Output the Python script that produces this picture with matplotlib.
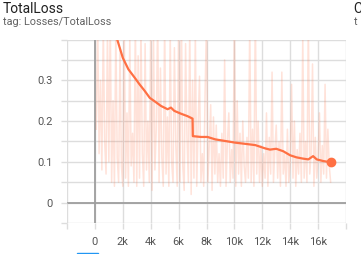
import numpy as np
import matplotlib.pyplot as plt
from matplotlib.patches import Rectangle

plt.rcParams['font.family'] = ['Roboto', 'DejaVu Sans']

# raw (unsmoothed) loss, one value every 100 steps
raw_steps = list(range(100, 17000, 100))
raw_loss = [0.18, 0.45, 0.12, 0.30, 0.08, 0.44, 0.15, 0.07, 0.42, 0.10,
            0.46, 0.05, 0.25, 0.04, 0.43, 0.11, 0.05, 0.38, 0.09, 0.04,
            0.47, 0.06, 0.22, 0.04, 0.41, 0.09, 0.17, 0.05, 0.45, 0.04,
            0.36, 0.06, 0.44, 0.12, 0.04, 0.39, 0.08, 0.20, 0.05, 0.43,
            0.03, 0.41, 0.08, 0.18, 0.46, 0.05, 0.33, 0.11, 0.04, 0.45,
            0.07, 0.21, 0.04, 0.42, 0.10, 0.05, 0.38, 0.14, 0.04, 0.44,
            0.05, 0.47, 0.09, 0.03, 0.39, 0.16, 0.05, 0.44, 0.02, 0.30,
            0.06, 0.42, 0.04, 0.19, 0.31, 0.05, 0.12, 0.04, 0.27, 0.45,
            0.05, 0.14, 0.24, 0.03, 0.21, 0.07, 0.19, 0.05, 0.12, 0.04,
            0.17, 0.06, 0.35, 0.04, 0.15, 0.22, 0.05, 0.13, 0.06, 0.46,
            0.04, 0.25, 0.07, 0.17, 0.04, 0.20, 0.09, 0.05, 0.16, 0.06,
            0.45, 0.05, 0.18, 0.04, 0.48, 0.07, 0.20, 0.05, 0.14, 0.04,
            0.12, 0.06, 0.22, 0.04, 0.16, 0.07, 0.32, 0.05, 0.13, 0.19,
            0.06, 0.15, 0.04, 0.32, 0.07, 0.12, 0.04, 0.18, 0.05, 0.10,
            0.29, 0.06, 0.20, 0.04, 0.13, 0.07, 0.17, 0.05, 0.41, 0.06,
            0.15, 0.05, 0.45, 0.07, 0.12, 0.34, 0.04, 0.16, 0.06, 0.11,
            0.22, 0.05, 0.14, 0.07, 0.29, 0.06, 0.18, 0.09, 0.05]

# smoothed curve
smooth_steps = [1400, 1600, 2000, 2400, 2860, 3200, 3570, 3930, 4260, 4740,
                5210, 5450, 5690, 6170, 6640, 7000, 7020, 7600, 8070, 8640,
                9360, 10070, 10800, 11500, 12200, 12550, 13000, 13500, 14000,
                14450, 14900, 15300, 15640, 15900, 16360, 16900]
smooth_loss = [0.43, 0.40, 0.355, 0.327, 0.306, 0.29, 0.274, 0.257, 0.249, 0.237,
               0.229, 0.233, 0.225, 0.218, 0.212, 0.206, 0.163, 0.161, 0.161, 0.155,
               0.151, 0.147, 0.144, 0.141, 0.133, 0.130, 0.132, 0.126, 0.116,
               0.111, 0.108, 0.106, 0.114, 0.106, 0.102, 0.099]

x_ticks = [0, 2000, 4000, 6000, 8000, 10000, 12000, 14000, 16000]
x_labels = ['0', '2k', '4k', '6k', '8k', '10k', '12k', '14k', '16k']
y_ticks = [0, 0.1, 0.2, 0.3]
y_labels = ['0', '0.1', '0.2', '0.3']

orange = '#ff7043'

fig = plt.figure(figsize=(3.61, 2.54), dpi=100)
ax = fig.add_axes([67/361, 31/254, 279/361, 183.5/254])

ax.plot(raw_steps, raw_loss, c=orange, alpha=0.2, lw=1.1)
ax.plot(smooth_steps, smooth_loss, c=orange, lw=1.6)
ax.plot(smooth_steps[-1], smooth_loss[-1], 'o', c=orange, ms=6, clip_on=False)

ax.set_xlim(-2000, 18000)
ax.set_ylim(-0.05, 0.4)

# grid every 2k / 0.05
for gx in range(-2000, 18001, 2000):
    ax.axvline(gx, c='#dddddd', lw=1, zorder=0)
for gy in np.arange(-0.05, 0.401, 0.05):
    ax.axhline(gy, c='#dddddd', lw=1, zorder=0)
ax.axhline(0, c='#9e9e9e', lw=1.3, zorder=0.5)
ax.axvline(0, c='#9e9e9e', lw=1.3, zorder=0.5)

ax.set_xticks(range(-2000, 18001, 2000))
ax.set_xticklabels([''] + x_labels + [''])
ax.set_yticks(np.arange(-0.05, 0.401, 0.05))
ylab = {round(v, 2): s for v, s in zip(y_ticks, y_labels)}
ax.set_yticklabels([ylab.get(round(v, 2), '') for v in np.arange(-0.05, 0.401, 0.05)])
ax.tick_params(colors='#dddddd', labelcolor='#555555', labelsize=8, length=4, width=1, pad=6)
for s in ax.spines.values():
    s.set_visible(False)

fig.text(3/361, 1 - 2/254, 'TotalLoss', fontsize=10, color='#212121', va='top')
fig.text(3/361, 1 - 17/254, 'tag: Losses/TotalLoss', fontsize=7.8, color='#616161', va='top')
fig.text(353/361, 1 - 2/254, 'C', fontsize=10, color='#212121', va='top')
fig.text(354/361, 1 - 17/254, 't', fontsize=7.8, color='#616161', va='top')

fig.patches.append(Rectangle((77/361, 0), 21/361, 1.5/254, transform=fig.transFigure,
                             color='#2196f3', figure=fig))

fig.savefig('out.png', dpi=100)
